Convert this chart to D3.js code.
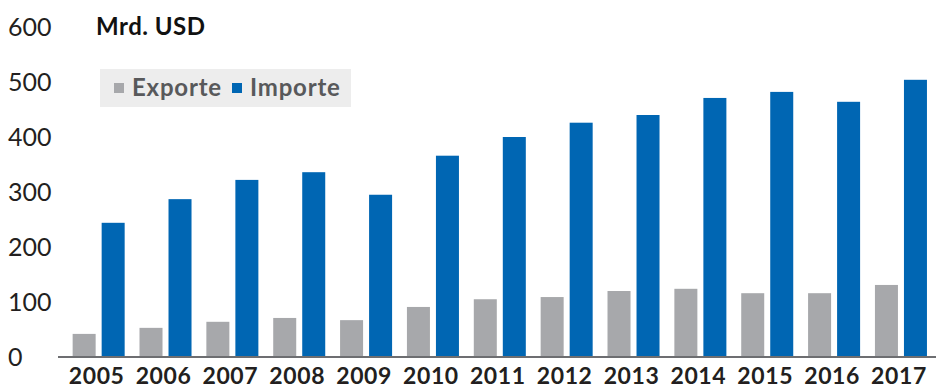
<!DOCTYPE html>
<html>
<head>
<meta charset="utf-8">
<script src="https://cdn.jsdelivr.net/npm/d3@7"></script>
<style>
  html, body { margin: 0; padding: 0; background: #fff; }
  svg { display: block; font-family: Lato, "Open Sans", sans-serif; }
</style>
</head>
<body>
<svg id="chart" width="936" height="390"></svg>
<script>
const years = ["2005","2006","2007","2008","2009","2010","2011","2012","2013","2014","2015","2016","2017"];
const exporte = [42, 53, 64, 71, 67, 91, 105, 109, 120, 124, 116, 116, 131];
const importe = [244, 287, 322, 336, 295, 366, 400, 426, 440, 471, 482, 464, 504];
const yTicks = [0, 100, 200, 300, 400, 500, 600];
const seriesNames = ["Exporte", "Importe"];
const colors = { Exporte: "#a7a8ab", Importe: "#0066b3" };

const svg = d3.select("#chart");

const y = d3.scaleLinear().domain([0, 600]).range([357, 27]);
const x0 = d3.scaleBand().domain(years).range([57.8, 941.8]).paddingInner(0.222).paddingOuter(0.222);
const x1 = d3.scaleBand().domain(seriesNames).range([0, x0.bandwidth()]).paddingInner(0.207);

const data = years.map((yr, i) => ({ year: yr, Exporte: exporte[i], Importe: importe[i] }));

// bars
const g = svg.append("g");
const groups = g.selectAll("g.grp").data(data).join("g")
  .attr("transform", d => `translate(${x0(d.year)},0)`);
groups.selectAll("rect").data(d => seriesNames.map(k => ({ key: k, value: d[k] }))).join("rect")
  .attr("x", d => x1(d.key))
  .attr("width", x1.bandwidth())
  .attr("y", d => y(d.value))
  .attr("height", d => y(0) - y(d.value))
  .attr("fill", d => colors[d.key]);

// baseline
svg.append("line")
  .attr("x1", 58).attr("x2", 936)
  .attr("y1", y(0)).attr("y2", y(0))
  .attr("stroke", "#6d6e71").attr("stroke-width", 2);

// y tick labels (left aligned)
svg.append("g").selectAll("text").data(yTicks).join("text")
  .attr("x", 8)
  .attr("y", d => y(d))
  .attr("dy", "0.36em")
  .attr("font-size", 25)
  .attr("fill", "#231f20")
  .text(d => d);

// x labels
svg.append("g").selectAll("text").data(years).join("text")
  .attr("x", d => x0(d) + x0.bandwidth() / 2 - 2)
  .attr("y", 384)
  .attr("text-anchor", "middle")
  .attr("font-size", 23)
  .attr("font-weight", 700)
  .attr("letter-spacing", 0.6)
  .attr("fill", "#231f20")
  .text(d => d);

// unit label
svg.append("text")
  .attr("x", 96).attr("y", 35)
  .attr("font-size", 24)
  .attr("font-weight", 700)
  .attr("letter-spacing", 0.5)
  .attr("fill", "#111")
  .text("Mrd. USD");

// legend
const leg = svg.append("g");
leg.append("rect").attr("x", 100).attr("y", 69).attr("width", 251).attr("height", 38).attr("fill", "#ededed");
const legItems = [
  { key: "Exporte", sx: 114, tx: 132 },
  { key: "Importe", sx: 232, tx: 250 }
];
legItems.forEach(it => {
  leg.append("rect").attr("x", it.sx).attr("y", 83).attr("width", 10).attr("height", 10).attr("fill", colors[it.key]);
  leg.append("text").attr("x", it.tx).attr("y", 95.5)
    .attr("font-size", 24).attr("font-weight", 700).attr("letter-spacing", 0.8).attr("fill", "#58595b")
    .text(it.key);
});
</script>
</body>
</html>
